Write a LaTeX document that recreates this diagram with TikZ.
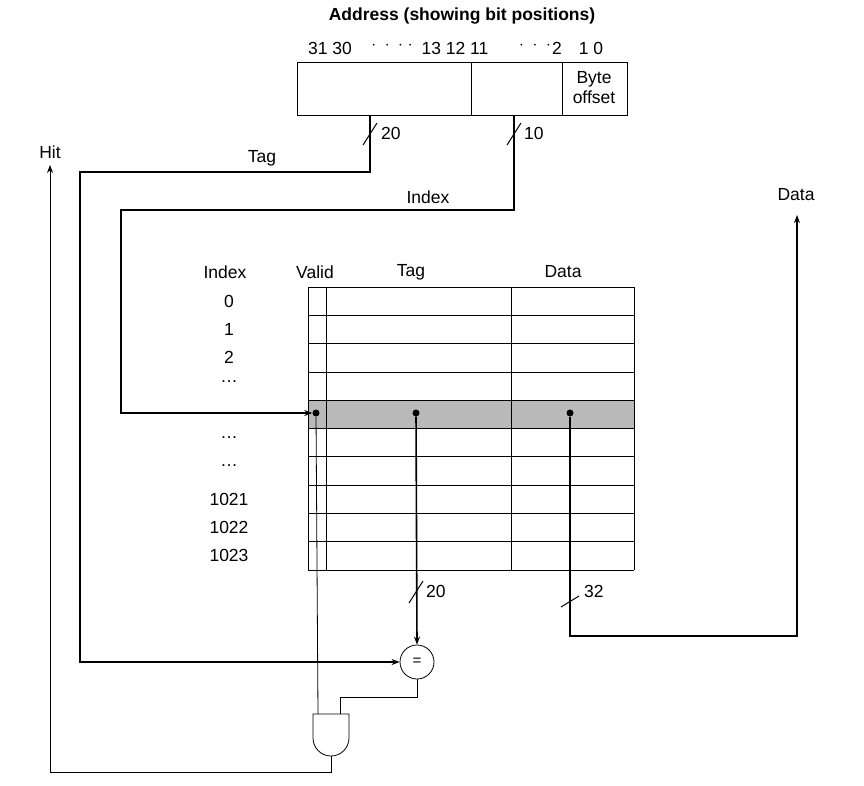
\documentclass[tikz,border=0pt]{standalone}
\usepackage{fontspec}
\setmainfont{Liberation Sans}
\usetikzlibrary{arrows.meta}
\begin{document}
\begin{tikzpicture}[x=1pt,y=-1pt,
  wire/.style={line width=1.6pt},
  thin/.style={line width=0.8pt},
  arr/.style={-{Stealth[length=8pt,width=6pt]}},
  dot/.style={circle,fill,inner sep=0pt,minimum size=7pt},
  lbl/.style={font=\fontsize{17.5}{20}\selectfont,inner sep=1pt},
  slash/.style={line width=1pt}]
\useasboundingbox (0,0) rectangle (864,785);
% address
\node[lbl,font=\bfseries\fontsize{17.5}{20}\selectfont] (title) at (462,16) {Address (showing bit positions)};
\node[lbl] (b1) at (330,48) {31 30};
\node[lbl] (b2) at (392,46) {$\cdot\;\cdot\;\cdot\;\cdot$};
\node[lbl] (b3) at (455,48) {13 12 11};
\node[lbl] (b4) at (535,46) {$\cdot\;\cdot\;\cdot$};
\node[lbl] (b5) at (557,48) {2};
\node[lbl] (b6) at (591,48) {1 0};
\draw[thin] (297,62) rectangle (627,115);
\draw[thin] (471,62) -- (471,115) (562,62) -- (562,115);
\node[lbl,align=center] (bo) at (594,88) {Byte\\offset};
% table
\fill[gray!55] (308,400) rectangle (634,428);
\foreach \i in {0,...,10} \draw[thin] (308,{287+28.3*\i}) -- (634,{287+28.3*\i});
\draw[thin] (308,287) -- (308,570) (326,287) -- (326,570) (511,287) -- (511,570) (634,287) -- (634,570);
\node[lbl] (hI) at (225,272) {Index};
\node[lbl] (hV) at (315,272) {Valid};
\node[lbl] (hT) at (411,272) {Tag};
\node[lbl] (hD) at (563,272) {Data};
\node[lbl] (r0) at (229,301) {0};
\node[lbl] (r1) at (229,329) {1};
\node[lbl] (r2) at (229,357) {2};
\node[lbl] (r3) at (229,382) {\dots};
\node[lbl] (r6) at (229,438) {\dots};
\node[lbl] (r7) at (229,466) {\dots};
\node[lbl] (r8) at (229,499) {1021};
\node[lbl] (r9) at (229,527) {1022};
\node[lbl] (r10) at (229,555) {1023};
% dots
\node[dot] (dv) at (316,413) {};
\node[dot] (dt) at (416,413) {};
\node[dot] (dd) at (570,413) {};
% comparator
\node[draw,thin,circle,minimum size=34pt,inner sep=0pt,font=\fontsize{15}{16}\selectfont] (eq) at (417,662) {=};
% AND gate
\draw[thin,fill=white] (313,714) -- (349,714) -- (349,738) arc (0:180:18) -- cycle;
\coordinate (gin1) at (318,714);
\coordinate (gin2) at (340,714);
\coordinate (gout) at (331,756);
% tag wire
\coordinate (ta) at (370,115);
\draw[wire,arr] (ta) -- (370,172) -- (80,172) -- (80,662) -- (eq.west);
\draw[slash] (363,145) -- (377,123);
\node[lbl,anchor=west] (n20a) at (380,133) {20};
\node[lbl] (ltag) at (262,158) {Tag};
% index wire
\coordinate (ia) at (514,115);
\draw[wire,arr] (ia) -- (514,210) -- (121,210) -- (121,413) -- (dv.west);
\draw[slash] (507,145) -- (521,123);
\node[lbl,anchor=west] (n10) at (523,133) {10};
\node[lbl] (lidx) at (428,197) {Index};
% tag to comparator
\draw[wire,arr] (dt) -- (eq.north);
\draw[slash] (409,603) -- (423,581);
\node[lbl,anchor=west] (n20b) at (425,591) {20};
% data
\coordinate (dout) at (797,215);
\draw[wire,arr] (dd) -- (570,636) -- (797,636) -- (dout);
\draw[slash] (561,607) -- (579,596);
\node[lbl,anchor=west] (n32) at (583,591) {32};
\node[lbl] (ldata) at (796,195) {Data};
% valid / and
\draw[thin] (dv) -- (gin1);
\draw[thin] (eq.south) -- (417,697) -- (340,697) -- (gin2);
\coordinate (hit) at (50,165);
\draw[thin,arr] (gout) -- (331,772) -- (50,772) -- (hit);
\node[lbl] (lhit) at (50,152) {Hit};
\end{tikzpicture}
\end{document}
